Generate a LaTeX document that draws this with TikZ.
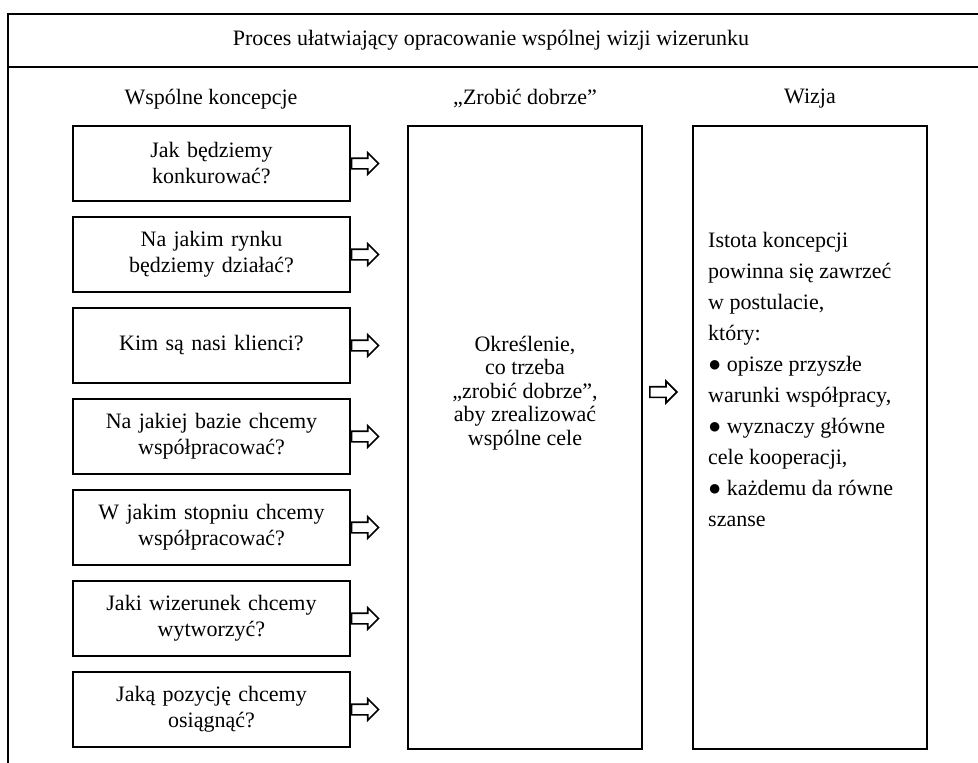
\documentclass[tikz,border=0pt]{standalone}
\usepackage{fontspec}
\setmainfont{Liberation Serif}
\usetikzlibrary{shapes.arrows}
\begin{document}
\begin{tikzpicture}[x=1pt,y=1pt,
  frame/.style={line width=1.4pt},
  txt/.style={font=\fontsize{22}{26}\selectfont},
  qbox/.style={draw, line width=1.3pt, minimum width=277pt, minimum height=75pt, inner sep=0pt, align=center, text width=270pt, txt},
  bigbox/.style={draw, line width=1.3pt, minimum width=234pt, minimum height=623pt, inner sep=0pt},
  barrow/.style={draw, line width=1.7pt, fill=white, single arrow, single arrow head extend=5.5pt, inner sep=0pt, inner ysep=4.5pt, minimum height=27pt, anchor=tail}
]
\useasboundingbox (0,0) rectangle (978,-763);
% outer frame
\draw[frame] (8,-763) -- (8,-14) -- (978,-14);
\draw[frame] (8,-67) -- (978,-67);
% title and headers
\node[txt] (title) at (491,-40) {Proces ułatwiający opracowanie wspólnej wizji wizerunku};
\node[txt] (h1) at (211,-99) {Wspólne koncepcje};
\node[txt] (h2) at (525,-99) {„Zrobić dobrze”};
\node[txt] (h3) at (810,-99) {Wizja};
% question boxes
\node[qbox] (q1) at (211.5,-163.5) {Jak będziemy\\konkurować?};
\node[qbox] (q2) at (211.5,-254.5) {Na jakim rynku\\będziemy działać?};
\node[qbox] (q3) at (211.5,-345.5) {Kim są nasi klienci?};
\node[qbox] (q4) at (211.5,-436.5) {Na jakiej bazie chcemy\\współpracować?};
\node[qbox] (q5) at (211.5,-527.5) {W jakim stopniu chcemy\\współpracować?};
\node[qbox] (q6) at (211.5,-618.5) {Jaki wizerunek chcemy\\wytworzyć?};
\node[qbox] (q7) at (211.5,-709.5) {Jaką pozycję chcemy\\osiągnąć?};
% big boxes
\node[bigbox] (mid) at (525,-437.5) {};
\node[bigbox] (viz) at (810,-437.5) {};
% arrows
\foreach \i in {1,...,7}{
  \node[barrow] (a\i) at (q\i.east) {};
}
\coordinate (m) at (649,-392);
\node[barrow] (a8) at (m) {};
% texts in big boxes
\node[align=center, font=\fontsize{22}{23.5}\selectfont] (mt) at (525,-393)
  {Określenie,\\co trzeba\\„zrobić dobrze”,\\aby zrealizować\\wspólne cele};
\node[anchor=north west, align=left, inner sep=0pt, font=\fontsize{22}{31}\selectfont] (vt) at (708,-232)
  {Istota koncepcji\\powinna się zawrzeć\\w postulacie,\\który:\\● opisze przyszłe\\warunki współpracy,\\● wyznaczy główne\\cele kooperacji,\\● każdemu da równe\\szanse};
\end{tikzpicture}
\end{document}
